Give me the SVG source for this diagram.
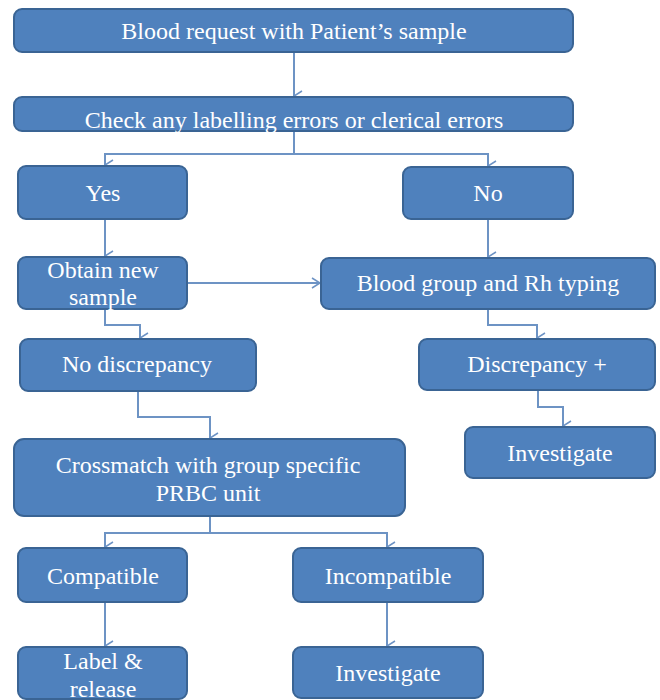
<svg xmlns="http://www.w3.org/2000/svg" width="660" height="700" viewBox="0 0 660 700">
<defs>
<marker id="a" markerWidth="12" markerHeight="10" refX="6" refY="9" orient="auto" markerUnits="userSpaceOnUse" viewBox="0 0 12 10">
<path d="M1,1 L6,9 L11,1" fill="none" stroke="#6D93C4" stroke-width="1.5"/>
</marker>
<marker id="ar" markerWidth="10" markerHeight="12" refX="9" refY="6" orient="0" markerUnits="userSpaceOnUse" viewBox="0 0 10 12">
<path d="M1,1 L9,6 L1,11" fill="none" stroke="#6D93C4" stroke-width="1.5"/>
</marker>
</defs>
<rect width="660" height="700" fill="#fff"/>
<g id="connectors" fill="none" stroke="#6D93C4" stroke-width="2" marker-end="url(#a)">
<path d="M294,52 V96"/>
<path d="M294,131 V154 H105 V165"/>
<path d="M294,154 H488 V166"/>
<path d="M488,219 V257"/>
<path d="M105,219 V256"/>
<path d="M187,283 H320" marker-end="url(#ar)"/>
<path d="M105,309 V325 H140 V338"/>
<path d="M138,391 V417 H210 V438"/>
<path d="M488,309 V325 H537 V338"/>
<path d="M538,390 V407 H563 V426"/>
<path d="M210,516 V533 H105 V547"/>
<path d="M210,533 H387 V547"/>
<path d="M105,602 V646"/>
<path d="M387,602 V646"/>
</g>
<g id="nodes" fill="#4F81BD" stroke="#3A6494" stroke-width="2">
<g id="n1"><rect x="14" y="9" width="559" height="43" rx="8"/></g>
<g id="n2"><rect x="14" y="97" width="559" height="34" rx="8"/></g>
<g id="n3"><rect x="18" y="166" width="169" height="53" rx="8"/></g>
<g id="n4"><rect x="403" y="167" width="170" height="52" rx="8"/></g>
<g id="n5"><rect x="18" y="257" width="169" height="52" rx="8"/></g>
<g id="n6"><rect x="321" y="258" width="334" height="51" rx="8"/></g>
<g id="n7"><rect x="20" y="339" width="236" height="52" rx="8"/></g>
<g id="n8"><rect x="419" y="339" width="236" height="51" rx="8"/></g>
<g id="n9"><rect x="465" y="427" width="190" height="51" rx="8"/></g>
<g id="n10"><rect x="14" y="439" width="391" height="77" rx="10"/></g>
<g id="n11"><rect x="18" y="548" width="169" height="54" rx="8"/></g>
<g id="n12"><rect x="293" y="548" width="190" height="54" rx="8"/></g>
<g id="n13"><rect x="18" y="647" width="169" height="52" rx="8"/></g>
<g id="n14"><rect x="293" y="647" width="190" height="51" rx="8"/></g>
</g>
<g id="labels" font-family="Liberation Serif" font-size="24" fill="#ffffff" text-anchor="middle">
<text x="294" y="39">Blood request with Patient’s sample</text>
<text x="294" y="128">Check any labelling errors or clerical errors</text>
<text x="103" y="201">Yes</text>
<text x="488" y="201">No</text>
<text x="103" y="278">Obtain new</text>
<text x="103" y="305">sample</text>
<text x="488" y="291">Blood group and Rh typing</text>
<text x="137" y="372">No discrepancy</text>
<text x="537" y="372">Discrepancy +</text>
<text x="560" y="461">Investigate</text>
<text x="208" y="473">Crossmatch with group specific</text>
<text x="208" y="501">PRBC unit</text>
<text x="103" y="584">Compatible</text>
<text x="388" y="584">Incompatible</text>
<text x="103" y="669">Label &amp;</text>
<text x="103" y="697">release</text>
<text x="388" y="681">Investigate</text>
</g>
</svg>
